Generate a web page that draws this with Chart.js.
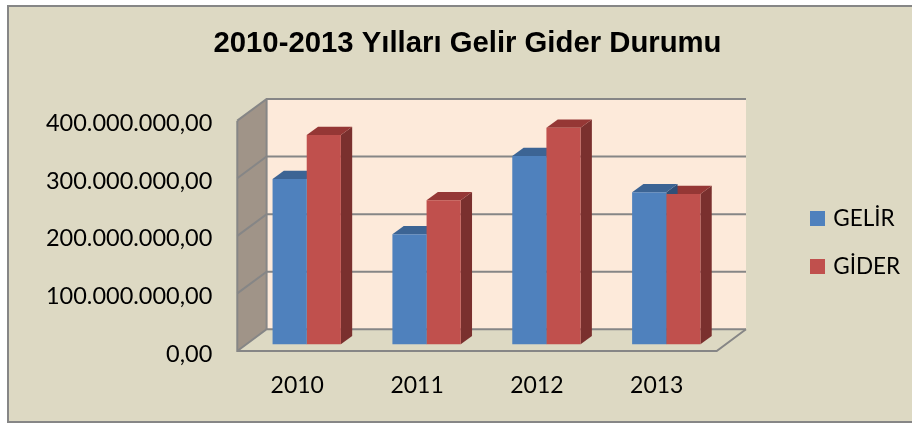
<!DOCTYPE html>
<html><head><meta charset="utf-8">
<style>html,body{margin:0;padding:0;background:#fff}canvas{display:block}</style>
<script src="https://cdn.jsdelivr.net/npm/chart.js@4"></script>
</head><body><canvas id="c" width="912" height="423"></canvas>
<script>
const categories = ['2010','2011','2012','2013'];
const gelir = [287000000,191000000,327000000,264000000];
const gider = [363500000,250000000,376000000,261000000];
const tickLabels = ['0,00','100.000.000,00','200.000.000,00','300.000.000,00','400.000.000,00'];
const titleText = '2010-2013 Yılları Gelir Gider Durumu';

const BACK = {dx:29.3, dy:-21.7};   // back wall offset from the front plane
const BAR = {dx:9.5, dy:-6.7};      // bar front face offset from the front plane
const DEPTH = {dx:11.3, dy:-8.3};   // bar depth
const EDGE = '#868686';

function poly(ctx, pts, fill, stroke, lw){
  ctx.beginPath();
  pts.forEach((p,i)=> i?ctx.lineTo(p[0],p[1]):ctx.moveTo(p[0],p[1]));
  ctx.closePath();
  if(fill){ctx.fillStyle=fill;ctx.fill();}
  if(stroke){ctx.strokeStyle=stroke;ctx.lineWidth=lw||1;ctx.stroke();}
}
const scene = {
  id:'scene',
  beforeLayout(chart){
    const l = chart.legend;
    if(l && !l._patched){
      const f = l.fit;
      l.fit = function(){ f.call(this); this.width = 195.3; };
      l._patched = true;
    }
  },
  afterLayout(chart){
    const l = chart.legend;
    l.left = 787.5; l.right = 912;
    l.top += 31; l.bottom += 31;
  },
  beforeDraw(chart){
    const {ctx,width,height} = chart;
    ctx.save();
    ctx.fillStyle='#fff';ctx.fillRect(0,0,width,height);
    ctx.fillStyle='#DDD9C3';ctx.fillRect(8,5,width-8,height-6);
    ctx.strokeStyle=EDGE;ctx.lineWidth=2;
    ctx.beginPath();ctx.moveTo(width,6);ctx.lineTo(8,6);ctx.lineTo(8,height-1);ctx.lineTo(width,height-1);ctx.stroke();
    ctx.restore();
  },
  beforeDatasetsDraw(chart){
    const {ctx,chartArea:a,scales:{y}} = chart;
    const L=a.left,R=a.right,T=a.top,B=a.bottom,dx=BACK.dx,dy=BACK.dy;
    ctx.save();
    poly(ctx,[[L+dx,T+dy],[R+dx,T+dy],[R+dx,B+dy],[L+dx,B+dy]],'#FDEADA');
    poly(ctx,[[L,T],[L+dx,T+dy],[L+dx,B+dy],[L,B]],'#A09488');
    poly(ctx,[[L,B],[L+dx,B+dy],[R+dx,B+dy],[R,B]],'#DDD9C3');
    ctx.strokeStyle=EDGE;ctx.lineWidth=2;ctx.lineJoin='miter';
    y.ticks.forEach(t=>{
      const p=y.getPixelForValue(t.value);
      ctx.beginPath();ctx.moveTo(L,p);ctx.lineTo(L+dx,p+dy);ctx.lineTo(R+dx,p+dy);ctx.stroke();
    });
    ctx.beginPath();ctx.moveTo(L+dx,T+dy);ctx.lineTo(L+dx,B+dy);ctx.stroke();
    ctx.beginPath();ctx.moveTo(L,T);ctx.lineTo(L,B);ctx.lineTo(R,B);ctx.lineTo(R+dx,B+dy);ctx.stroke();
    // extruded faces of the bars: second series first, so the first series' top sits over it
    ctx.translate(BAR.dx,BAR.dy);
    [1,0].forEach(idx=>{
      const ds = chart.data.datasets[idx];
      chart.getDatasetMeta(idx).data.forEach(b=>{
        const p=b.getProps(['x','y','base','width'],true);
        const l=p.x-p.width/2,r=p.x+p.width/2,t=p.y,base=p.base,ex=DEPTH.dx,ey=DEPTH.dy;
        poly(ctx,[[r,t],[r+ex,t+ey],[r+ex,base+ey],[r,base]],ds.sideColor);
        poly(ctx,[[l,t],[l+ex,t+ey],[r+ex,t+ey],[r,t]],ds.topColor);
      });
    });
    ctx.restore();
  },
  beforeDatasetDraw(chart){
    chart.ctx.save();
    chart.ctx.translate(BAR.dx,BAR.dy);
  },
  afterDatasetDraw(chart){ chart.ctx.restore(); }
};

new Chart(document.getElementById('c'),{
  type:'bar',
  data:{labels:categories,datasets:[
    {label:'GELİR',data:gelir,backgroundColor:'#4F81BD',topColor:'#3C6494',sideColor:'#2F4F78',clip:false,categoryPercentage:.57,barPercentage:1},
    {label:'GİDER',data:gider,backgroundColor:'#C0504D',topColor:'#953735',sideColor:'#7A302E',clip:false,categoryPercentage:.57,barPercentage:1}
  ]},
  plugins:[scene],
  options:{
    responsive:false,animation:false,
    layout:{padding:{left:23,right:0,top:0,bottom:0}},
    plugins:{
      tooltip:{enabled:false},
      title:{display:true,text:titleText,color:'#000',font:{family:'"Liberation Sans"',size:29.3,weight:'bold'},padding:{top:26,bottom:59.5}},
      legend:{position:'right',labels:{boxWidth:9,boxHeight:9,padding:25.5,color:'#000',font:{family:'Lato',size:22.5},
        generateLabels:(chart)=>chart.data.datasets.map((d,i)=>({text:d.label,fillStyle:d.backgroundColor,strokeStyle:d.backgroundColor,lineWidth:6,datasetIndex:i,hidden:false}))}}
    },
    scales:{
      x:{grid:{display:false,drawTicks:false},border:{display:false},
         ticks:{color:'#000',padding:21,font:{family:'Lato',size:23}},
         afterFit(s){s.height=72;}},
      y:{min:0,max:400000000,grid:{display:false,drawTicks:false},border:{display:false},
         ticks:{stepSize:100000000,color:'#000',padding:25,labelOffset:3,font:{family:'Lato',size:23.5},callback:(v,i)=>tickLabels[i]},
         afterFit(s){s.width=214.3;}}
    }
  }
});
</script></body></html>
